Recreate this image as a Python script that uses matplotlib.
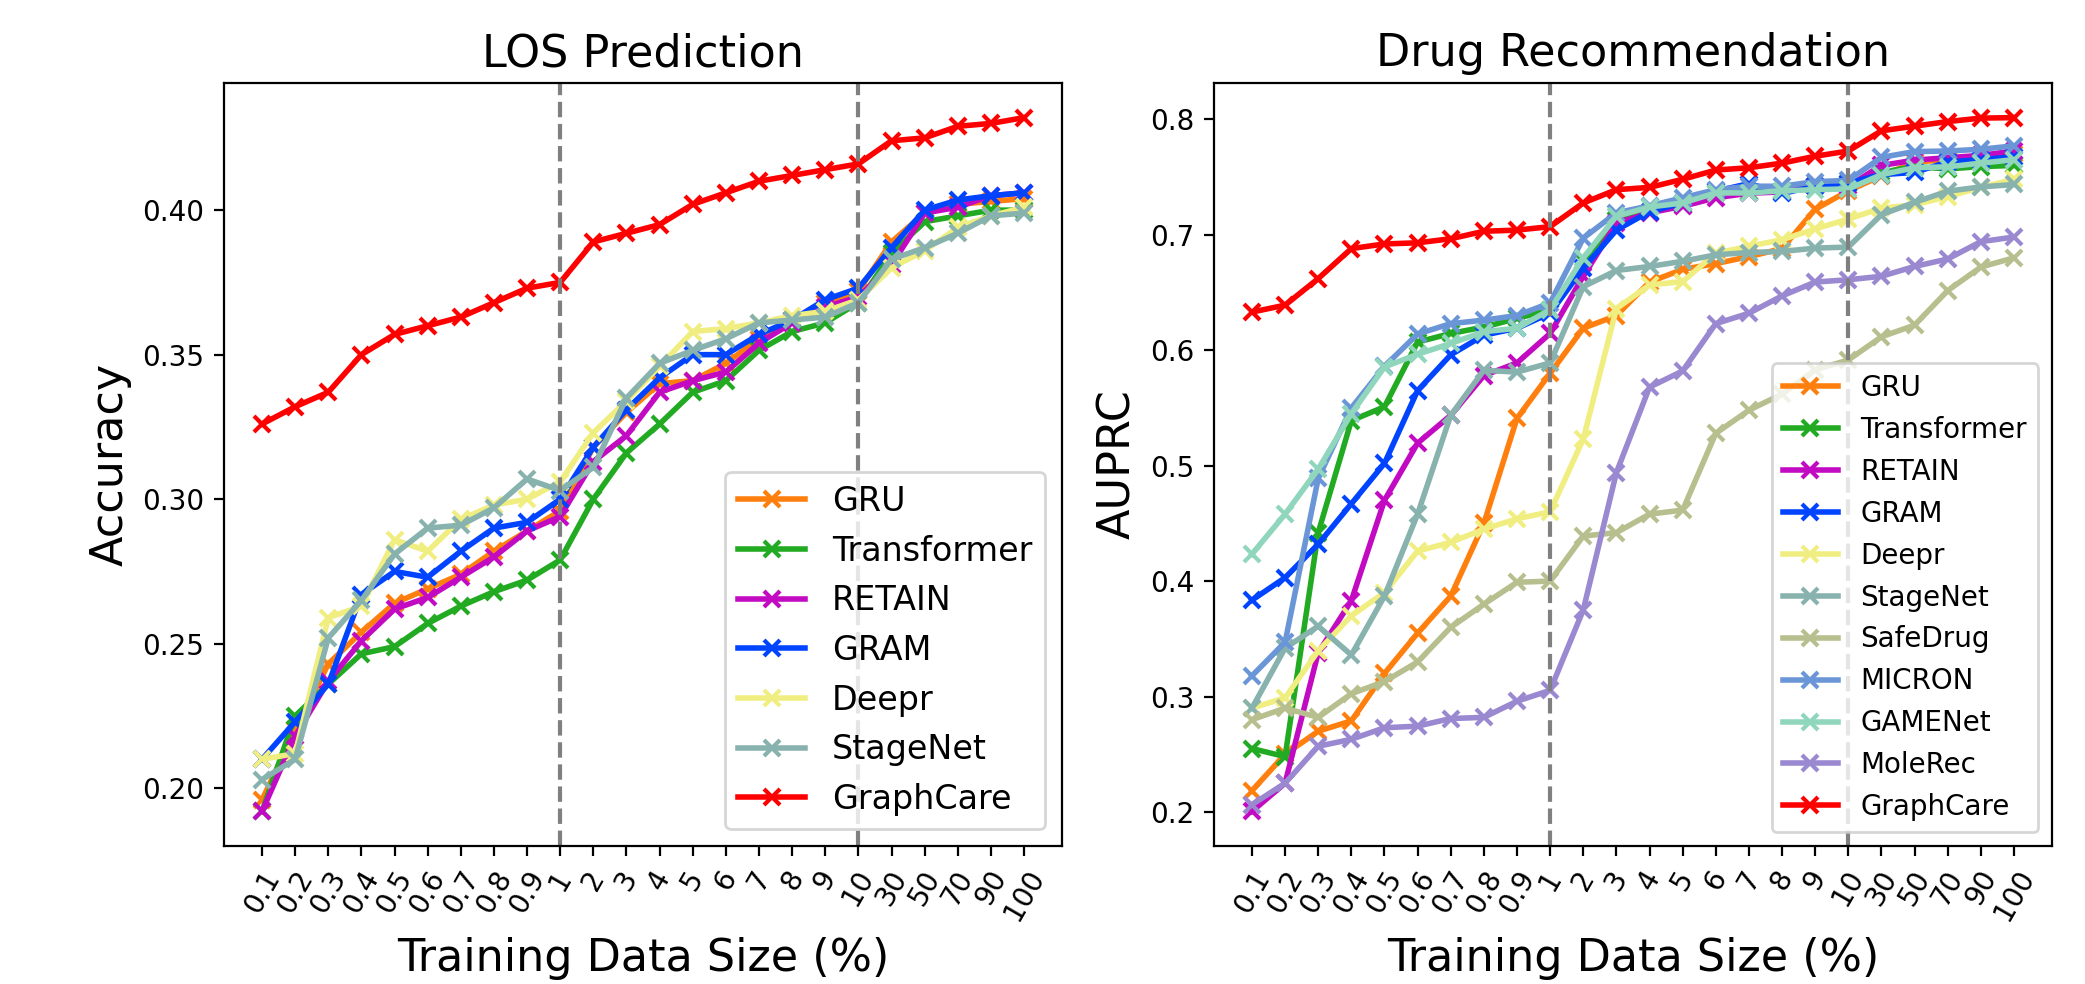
import matplotlib
matplotlib.use('Agg')
import matplotlib.pyplot as plt
import numpy as np

sizes = ['0.1', '0.2', '0.3', '0.4', '0.5', '0.6', '0.7', '0.8', '0.9',
         '1', '2', '3', '4', '5', '6', '7', '8', '9', '10',
         '30', '50', '70', '90', '100']

# LOS prediction (accuracy)
los_gru = [0.196, 0.220, 0.243, 0.254, 0.264, 0.269, 0.274, 0.282, 0.289, 0.296,
           0.318, 0.330, 0.340, 0.341, 0.347, 0.3555, 0.362, 0.368, 0.372,
           0.389, 0.399, 0.402, 0.403, 0.404]
los_transformer = [0.192, 0.225, 0.236, 0.2465, 0.249, 0.257, 0.263, 0.268, 0.272, 0.279,
                   0.300, 0.316, 0.326, 0.337, 0.341, 0.3515, 0.358, 0.361, 0.368,
                   0.385, 0.396, 0.398, 0.400, 0.400]
los_retain = [0.192, 0.218, 0.237, 0.251, 0.262, 0.266, 0.273, 0.280, 0.289, 0.294,
              0.313, 0.322, 0.337, 0.341, 0.344, 0.354, 0.361, 0.3665, 0.370,
              0.381, 0.399, 0.401, 0.405, 0.406]
los_gram = [0.210, 0.223, 0.236, 0.267, 0.275, 0.273, 0.282, 0.290, 0.292, 0.300,
            0.318, 0.331, 0.342, 0.350, 0.350, 0.357, 0.362, 0.369, 0.373,
            0.387, 0.400, 0.4035, 0.405, 0.406]
los_deepr = [0.210, 0.212, 0.259, 0.263, 0.286, 0.282, 0.293, 0.298, 0.300, 0.306,
             0.323, 0.334, 0.346, 0.358, 0.359, 0.361, 0.3635, 0.365, 0.369,
             0.380, 0.386, 0.394, 0.398, 0.401]
los_stagenet = [0.203, 0.210, 0.252, 0.265, 0.281, 0.290, 0.291, 0.297, 0.307, 0.303,
                0.311, 0.335, 0.347, 0.3515, 0.3555, 0.361, 0.362, 0.363, 0.368,
                0.383, 0.387, 0.392, 0.398, 0.399]
los_graphcare = [0.326, 0.332, 0.337, 0.350, 0.357, 0.360, 0.363, 0.368, 0.373, 0.375,
                 0.389, 0.392, 0.395, 0.402, 0.406, 0.410, 0.412, 0.414, 0.416,
                 0.424, 0.425, 0.429, 0.430, 0.432]

# drug recommendation (AUPRC)
drug_gru = [0.2185, 0.250, 0.270, 0.279, 0.320, 0.355, 0.387, 0.450, 0.541, 0.580,
            0.619, 0.630, 0.659, 0.670, 0.675, 0.681, 0.688, 0.722, 0.738,
            0.751, 0.763, 0.765, 0.767, 0.770]
drug_transformer = [0.255, 0.248, 0.442, 0.539, 0.551, 0.607, 0.6145, 0.620, 0.6275, 0.635,
                    0.677, 0.713, 0.720, 0.726, 0.736, 0.737, 0.738, 0.742, 0.7435,
                    0.754, 0.759, 0.757, 0.759, 0.760]
drug_retain = [0.2006, 0.225, 0.338, 0.383, 0.470, 0.5195, 0.5436, 0.578, 0.589, 0.6145,
               0.664, 0.710, 0.719, 0.7246, 0.732, 0.736, 0.737, 0.742, 0.742,
               0.760, 0.7646, 0.7667, 0.7687, 0.7725]
drug_gram = [0.3835, 0.403, 0.432, 0.467, 0.502, 0.565, 0.596, 0.613, 0.619, 0.632,
             0.671, 0.704, 0.720, 0.7275, 0.7377, 0.7443, 0.7357, 0.742, 0.745,
             0.752, 0.754, 0.763, 0.765, 0.7675]
drug_deepr = [0.290, 0.299, 0.3395, 0.370, 0.390, 0.426, 0.4336, 0.445, 0.454, 0.460,
              0.523, 0.636, 0.6565, 0.6594, 0.684, 0.690, 0.6957, 0.705, 0.7136,
              0.723, 0.726, 0.733, 0.741, 0.748]
drug_stagenet = [0.290, 0.342, 0.361, 0.336, 0.387, 0.458, 0.5436, 0.5826, 0.581, 0.589,
                 0.655, 0.669, 0.6725, 0.677, 0.6826, 0.6846, 0.6855, 0.6884, 0.6893,
                 0.7174, 0.728, 0.7377, 0.7414, 0.7435]
drug_safedrug = [0.280, 0.290, 0.282, 0.3025, 0.313, 0.330, 0.360, 0.380, 0.399, 0.400,
                 0.439, 0.442, 0.458, 0.4615, 0.528, 0.548, 0.562, 0.583, 0.5915,
                 0.6116, 0.6217, 0.6516, 0.672, 0.680]
drug_micron = [0.318, 0.347, 0.489, 0.550, 0.586, 0.614, 0.623, 0.626, 0.630, 0.641,
               0.697, 0.719, 0.725, 0.732, 0.739, 0.742, 0.742, 0.746, 0.747,
               0.767, 0.772, 0.7725, 0.774, 0.777]
drug_gamenet = [0.4234, 0.458, 0.497, 0.545, 0.5855, 0.5965, 0.6058, 0.616, 0.619, 0.635,
                0.680, 0.716, 0.724, 0.7275, 0.7362, 0.7362, 0.738, 0.739, 0.7397,
                0.752, 0.758, 0.7588, 0.762, 0.765]
drug_molerec = [0.2064, 0.225, 0.257, 0.263, 0.273, 0.2744, 0.281, 0.282, 0.296, 0.3054,
                0.375, 0.494, 0.568, 0.582, 0.623, 0.632, 0.647, 0.659, 0.661,
                0.664, 0.6725, 0.679, 0.694, 0.698]
drug_graphcare = [0.633, 0.639, 0.662, 0.688, 0.692, 0.693, 0.6965, 0.703, 0.704, 0.707,
                  0.7275, 0.739, 0.741, 0.748, 0.756, 0.758, 0.762, 0.768, 0.7725,
                  0.790, 0.794, 0.798, 0.801, 0.8014]

colors = {
    'GRU': '#ff7f0e',
    'Transformer': '#22aa22',
    'RETAIN': '#c20ac2',
    'GRAM': '#0044ff',
    'Deepr': '#f0ee80',
    'StageNet': '#88b2ae',
    'SafeDrug': '#b8bf8e',
    'MICRON': '#6a96d8',
    'GAMENet': '#8fd6bd',
    'MoleRec': '#9a88d0',
    'GraphCare': '#ff0000',
}

los = {'GRU': los_gru, 'Transformer': los_transformer, 'RETAIN': los_retain,
       'GRAM': los_gram, 'Deepr': los_deepr, 'StageNet': los_stagenet,
       'GraphCare': los_graphcare}
drug = {'GRU': drug_gru, 'Transformer': drug_transformer, 'RETAIN': drug_retain,
        'GRAM': drug_gram, 'Deepr': drug_deepr, 'StageNet': drug_stagenet,
        'SafeDrug': drug_safedrug, 'MICRON': drug_micron, 'GAMENet': drug_gamenet,
        'MoleRec': drug_molerec, 'GraphCare': drug_graphcare}

fig, axes = plt.subplots(1, 2, figsize=(10.425, 4.92), dpi=200)
fig.subplots_adjust(left=0.1074, right=0.9842, bottom=0.1402, top=0.9157, wspace=0.181)

x = np.arange(len(sizes))


def draw(ax, data, title, ylabel, legend_size):
    for name, vals in data.items():
        ax.plot(x, vals, marker='x', color=colors[name], label=name,
                linewidth=2, markersize=6, markeredgewidth=1.5)
    ax.axvline(sizes.index('1'), color='gray', linestyle='--', linewidth=1.5)
    ax.axvline(sizes.index('10'), color='gray', linestyle='--', linewidth=1.5)
    ax.set_xticks(x)
    ax.set_xticklabels(sizes, rotation=60)
    ax.set_title(title, fontsize=16)
    ax.set_xlabel('Training Data Size (%)', fontsize=16)
    ax.set_ylabel(ylabel, fontsize=16)
    ax.legend(loc='lower right', fontsize=legend_size)


draw(axes[0], los, 'LOS Prediction', 'Accuracy', 12)
draw(axes[1], drug, 'Drug Recommendation', 'AUPRC', 10)

plt.savefig('out.png')
